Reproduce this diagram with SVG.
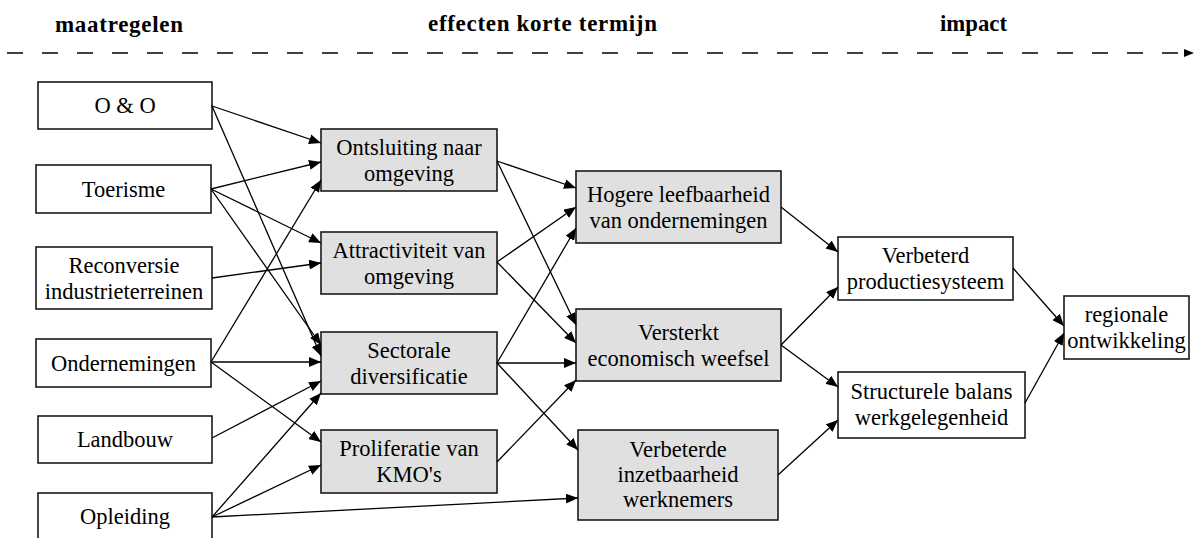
<svg xmlns="http://www.w3.org/2000/svg" width="1196" height="538" viewBox="0 0 1196 538">
<style>
.bw{fill:#ffffff;stroke:#1a1a1a;stroke-width:1.6}
.bg{fill:#e0e0e0;stroke:#1a1a1a;stroke-width:1.6}
.t{font-size:22.5px;fill:#000;text-anchor:middle}
.h{font-size:23px;font-weight:bold;fill:#000}
.c line{stroke:#000;stroke-width:1.3;fill:none}
</style>
<defs>
<marker id="ah" viewBox="0 0 12 10" refX="12" refY="5" markerWidth="12" markerHeight="10" markerUnits="userSpaceOnUse" orient="auto">
<path d="M0,0 L12,5 L0,10 z" fill="#000"/>
</marker>
<marker id="ah2" viewBox="0 0 10 8" refX="10" refY="4" markerWidth="10" markerHeight="8" markerUnits="userSpaceOnUse" orient="auto">
<path d="M0,0 L10,4 L0,8 z" fill="#000"/>
</marker>
</defs>
<rect width="1196" height="538" fill="#ffffff"/>
<g font-family="'Liberation Serif', 'Times New Roman', Times, 'DejaVu Serif', serif">
<g id="header">
<text class="h" x="55" y="32" textLength="128" lengthAdjust="spacing">maatregelen</text>
<text class="h" x="428" y="31" textLength="229" lengthAdjust="spacing">effecten korte termijn</text>
<text class="h" x="940" y="31" textLength="67" lengthAdjust="spacingAndGlyphs">impact</text>
<line x1="7" y1="53" x2="1194" y2="53" stroke="#000" stroke-width="1.4" stroke-dasharray="16 19" marker-end="url(#ah2)"/>
</g>
<g id="n-oo"><rect class="bw" x="38" y="82" width="174" height="47"/><text class="t" x="125" y="113">O &amp; O</text></g>
<g id="n-toerisme"><rect class="bw" x="36" y="165" width="175" height="48"/><text class="t" x="123.5" y="196.5">Toerisme</text></g>
<g id="n-reconversie"><rect class="bw" x="36" y="247" width="176" height="62"/><text class="t" x="124" y="272.5">Reconversie</text><text class="t" x="124" y="298.5">industrieterreinen</text></g>
<g id="n-ondernemingen"><rect class="bw" x="36" y="339" width="175" height="48"/><text class="t" x="123.5" y="370.5">Ondernemingen</text></g>
<g id="n-landbouw"><rect class="bw" x="38" y="416" width="174" height="47"/><text class="t" x="125" y="447">Landbouw</text></g>
<g id="n-opleiding"><rect class="bw" x="38" y="493" width="174" height="50"/><text class="t" x="125" y="524">Opleiding</text></g>
<g id="n-ontsluiting"><rect class="bg" x="321" y="129" width="176" height="62"/><text class="t" x="409" y="154.5">Ontsluiting naar</text><text class="t" x="409" y="180.5">omgeving</text></g>
<g id="n-attractiviteit"><rect class="bg" x="321" y="232" width="176" height="62"/><text class="t" x="409" y="257.5">Attractiviteit van</text><text class="t" x="409" y="283.5">omgeving</text></g>
<g id="n-sectorale"><rect class="bg" x="321" y="332" width="176" height="62"/><text class="t" x="409" y="357.5">Sectorale</text><text class="t" x="409" y="383.5">diversificatie</text></g>
<g id="n-proliferatie"><rect class="bg" x="321" y="430" width="176" height="63"/><text class="t" x="409" y="456">Proliferatie van</text><text class="t" x="409" y="482">KMO's</text></g>
<g id="n-hogere"><rect class="bg" x="576" y="171" width="205" height="72"/><text class="t" x="678.5" y="201.5">Hogere leefbaarheid</text><text class="t" x="678.5" y="227.5">van ondernemingen</text></g>
<g id="n-versterkt"><rect class="bg" x="576" y="309" width="205" height="72"/><text class="t" x="678.5" y="339.5">Versterkt</text><text class="t" x="678.5" y="365.5">economisch weefsel</text></g>
<g id="n-verbeterde"><rect class="bg" x="578" y="430" width="200" height="90"/><text class="t" x="678" y="457">Verbeterde</text><text class="t" x="678" y="482">inzetbaarheid</text><text class="t" x="678" y="507">werknemers</text></g>
<g id="n-verbeterd"><rect class="bw" x="838" y="237" width="175" height="63"/><text class="t" x="925.5" y="263">Verbeterd</text><text class="t" x="925.5" y="289">productiesysteem</text></g>
<g id="n-structurele"><rect class="bw" x="838" y="372" width="187" height="66"/><text class="t" x="931.5" y="399">Structurele balans</text><text class="t" x="931.5" y="425">werkgelegenheid</text></g>
<g id="n-regionale"><rect class="bw" x="1064" y="296" width="125" height="63"/><text class="t" x="1126.5" y="322">regionale</text><text class="t" x="1126.5" y="348">ontwikkeling</text></g>
</g>
<g id="connectors" class="c">
<line x1="212" y1="106" x2="321" y2="143" marker-end="url(#ah)"/>
<line x1="212" y1="106" x2="321" y2="356" marker-end="url(#ah)"/>
<line x1="211" y1="189" x2="321" y2="162" marker-end="url(#ah)"/>
<line x1="211" y1="189" x2="321" y2="243" marker-end="url(#ah)"/>
<line x1="211" y1="189" x2="321" y2="345" marker-end="url(#ah)"/>
<line x1="212" y1="278" x2="321" y2="263" marker-end="url(#ah)"/>
<line x1="211" y1="362" x2="321" y2="180" marker-end="url(#ah)"/>
<line x1="211" y1="362" x2="321" y2="362" marker-end="url(#ah)"/>
<line x1="211" y1="362" x2="321" y2="442" marker-end="url(#ah)"/>
<line x1="212" y1="438" x2="321" y2="381" marker-end="url(#ah)"/>
<line x1="212" y1="517" x2="321" y2="393" marker-end="url(#ah)"/>
<line x1="212" y1="517" x2="321" y2="465" marker-end="url(#ah)"/>
<line x1="212" y1="517" x2="578" y2="498" marker-end="url(#ah)"/>
<line x1="497" y1="161" x2="576" y2="188" marker-end="url(#ah)"/>
<line x1="497" y1="161" x2="576" y2="325" marker-end="url(#ah)"/>
<line x1="497" y1="262" x2="576" y2="207" marker-end="url(#ah)"/>
<line x1="497" y1="262" x2="576" y2="343" marker-end="url(#ah)"/>
<line x1="497" y1="363" x2="576" y2="228" marker-end="url(#ah)"/>
<line x1="497" y1="363" x2="576" y2="363" marker-end="url(#ah)"/>
<line x1="497" y1="363" x2="578" y2="450" marker-end="url(#ah)"/>
<line x1="497" y1="462" x2="576" y2="380" marker-end="url(#ah)"/>
<line x1="781" y1="207" x2="838" y2="252" marker-end="url(#ah)"/>
<line x1="781" y1="345" x2="838" y2="287" marker-end="url(#ah)"/>
<line x1="781" y1="345" x2="838" y2="387" marker-end="url(#ah)"/>
<line x1="778" y1="475" x2="838" y2="420" marker-end="url(#ah)"/>
<line x1="1013" y1="268" x2="1064" y2="326" marker-end="url(#ah)"/>
<line x1="1025" y1="403" x2="1064" y2="333" marker-end="url(#ah)"/>
</g>
</svg>
